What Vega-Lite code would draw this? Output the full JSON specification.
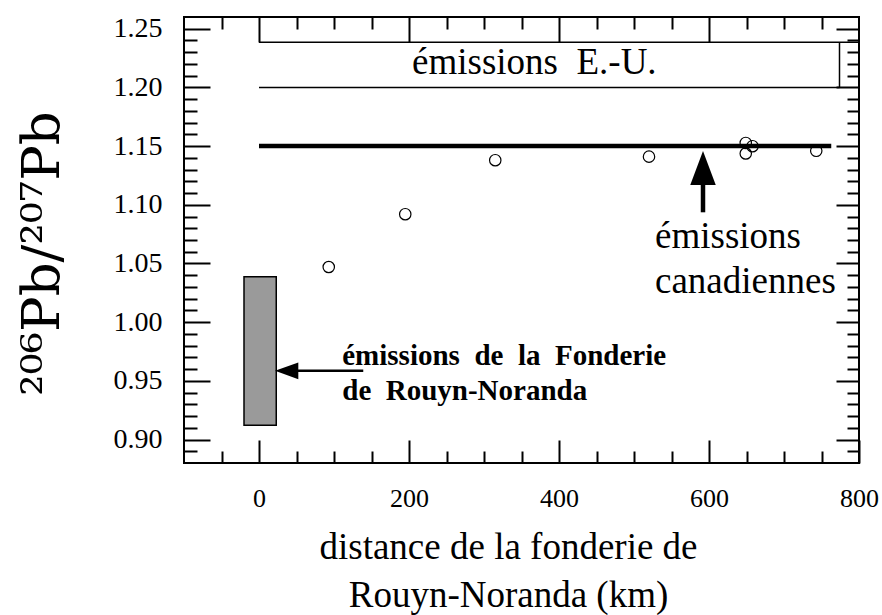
{
  "$schema": "https://vega.github.io/schema/vega-lite/v6.json",
  "width": 675,
  "height": 446,
  "autosize": {"type": "none"},
  "padding": {"left": 184, "top": 17, "right": 23, "bottom": 152},
  "background": "white",
  "config": {
    "view": {"stroke": "black", "strokeWidth": 2},
    "axis": {"grid": false, "domain": false, "tickColor": "black", "tickWidth": 2, "labelColor": "black", "titleColor": "black", "labelFont": "Liberation Serif", "titleFont": "Liberation Serif", "titleFontWeight": "normal"}
  },
  "datasets": {
    "points": [
      {"d": 93, "r": 1.047},
      {"d": 195, "r": 1.092},
      {"d": 315, "r": 1.138},
      {"d": 520, "r": 1.141},
      {"d": 649, "r": 1.1527},
      {"d": 649, "r": 1.1437},
      {"d": 658, "r": 1.1499},
      {"d": 743, "r": 1.146}
    ],
    "thin": [
      {"x1": 0, "x2": 800, "y1": 1.2385, "y2": 1.2385},
      {"x1": 0, "x2": 774, "y1": 1.2, "y2": 1.2},
      {"x1": 774, "x2": 774, "y1": 1.2, "y2": 1.2385}
    ],
    "thick": [
      {"x1": 0, "x2": 763, "y1": 1.15, "y2": 1.15},
      {"x1": 592, "x2": 592, "y1": 1.0936, "y2": 1.119}
    ],
    "shaft": [
      {"x1": 50, "x2": 139, "y1": 0.9585, "y2": 0.9585}
    ],
    "box": [
      {"x1": -20, "x2": 23, "y1": 0.9122, "y2": 1.0387}
    ],
    "headUp": [{"x": 592, "y": 1.1313}],
    "headLeft": [{"x": 36.9, "y": 0.9585}],
    "labels": [
      {"x": 204, "y": 1.2204, "t": "émissions\u00a0 E.-U."},
      {"x": 528, "y": 1.0729, "t": "émissions"},
      {"x": 528, "y": 1.0346, "t": "canadiennes"}
    ],
    "bold": [
      {"x": 111, "y": 0.9712, "t": "émissions\u00a0 de\u00a0 la\u00a0 Fonderie"},
      {"x": 111, "y": 0.9415, "t": "de\u00a0 Rouyn-Noranda"}
    ]
  },
  "resolve": {"axis": {"x": "independent", "y": "independent"}},
  "layer": [
    {
      "data": {"name": "box"},
      "mark": {"type": "rect", "fill": "#9a9a9a", "stroke": "black", "strokeWidth": 1.5},
      "encoding": {
        "x": {"field": "x1", "type": "quantitative", "scale": {"domain": [-100, 800], "nice": false, "zero": false},
          "axis": {"orient": "top", "values": [-50, 50, 100, 150, 250, 300, 350, 450, 500, 550, 650, 700, 750], "tickSize": -12, "labels": false, "title": null}},
        "x2": {"field": "x2"},
        "y": {"field": "y1", "type": "quantitative", "scale": {"domain": [0.88, 1.26], "nice": false, "zero": false},
          "axis": {"orient": "right", "values": [0.89, 0.91, 0.92, 0.93, 0.94, 0.96, 0.97, 0.98, 0.99, 1.01, 1.02, 1.03, 1.04, 1.06, 1.07, 1.08, 1.09, 1.11, 1.12, 1.13, 1.14, 1.16, 1.17, 1.18, 1.19, 1.21, 1.22, 1.23, 1.24], "tickSize": -12, "labels": false, "title": null}},
        "y2": {"field": "y2"}
      }
    },
    {
      "data": {"name": "thin"},
      "mark": {"type": "rule", "color": "black", "strokeWidth": 1.5},
      "encoding": {
        "x": {"field": "x1", "type": "quantitative", "scale": {"domain": [-100, 800], "nice": false, "zero": false},
          "axis": {"orient": "bottom", "values": [-50, 50, 100, 150, 250, 300, 350, 450, 500, 550, 650, 700, 750], "tickSize": -12, "labels": false, "title": null}},
        "x2": {"field": "x2"},
        "y": {"field": "y1", "type": "quantitative", "scale": {"domain": [0.88, 1.26], "nice": false, "zero": false},
          "axis": {"orient": "left", "values": [0.89, 0.91, 0.92, 0.93, 0.94, 0.96, 0.97, 0.98, 0.99, 1.01, 1.02, 1.03, 1.04, 1.06, 1.07, 1.08, 1.09, 1.11, 1.12, 1.13, 1.14, 1.16, 1.17, 1.18, 1.19, 1.21, 1.22, 1.23, 1.24], "tickSize": -13, "labels": false, "title": null}},
        "y2": {"field": "y2"}
      }
    },
    {
      "data": {"name": "thick"},
      "mark": {"type": "rule", "color": "black", "strokeWidth": 4.5},
      "encoding": {
        "x": {"field": "x1", "type": "quantitative", "scale": {"domain": [-100, 800], "nice": false, "zero": false},
          "axis": {"orient": "top", "values": [0, 200, 400, 600], "tickSize": -25, "labels": false, "title": null}},
        "x2": {"field": "x2"},
        "y": {"field": "y1", "type": "quantitative", "scale": {"domain": [0.88, 1.26], "nice": false, "zero": false},
          "axis": {"orient": "right", "values": [0.9, 0.95, 1.0, 1.05, 1.1, 1.15, 1.2, 1.25], "tickSize": -23, "labels": false, "title": null}},
        "y2": {"field": "y2"}
      }
    },
    {
      "data": {"name": "shaft"},
      "mark": {"type": "rule", "color": "black", "strokeWidth": 2.5},
      "encoding": {
        "x": {"field": "x1", "type": "quantitative", "axis": null},
        "x2": {"field": "x2"},
        "y": {"field": "y1", "type": "quantitative", "axis": null},
        "y2": {"field": "y2"}
      }
    },
    {
      "data": {"name": "headUp"},
      "mark": {"type": "point", "shape": "M0,-1L-0.75,1L0.75,1Z", "filled": true, "color": "black", "opacity": 1, "size": 1156},
      "encoding": {
        "x": {"field": "x", "type": "quantitative", "axis": null},
        "y": {"field": "y", "type": "quantitative", "axis": null}
      }
    },
    {
      "data": {"name": "headLeft"},
      "mark": {"type": "point", "shape": "M-1,0L1,-0.71L1,0.71Z", "filled": true, "color": "black", "opacity": 1, "size": 543},
      "encoding": {
        "x": {"field": "x", "type": "quantitative", "axis": null},
        "y": {"field": "y", "type": "quantitative", "axis": null}
      }
    },
    {
      "data": {"name": "points"},
      "mark": {"type": "point", "filled": false, "stroke": "black", "strokeWidth": 1.2, "opacity": 1, "size": 130},
      "encoding": {
        "x": {"field": "d", "type": "quantitative", "scale": {"domain": [-100, 800], "nice": false, "zero": false},
          "axis": {"orient": "bottom", "values": [0, 200, 400, 600, 800], "tickSize": -23, "labelFontSize": 26, "labelPadding": 45, "labelFlush": false,
            "title": ["distance de la fonderie de", "Rouyn-Noranda (km)"], "titleFontSize": 37, "titleLineHeight": 48, "titlePadding": 18, "titleX": 324}},
        "y": {"field": "r", "type": "quantitative", "scale": {"domain": [0.88, 1.26], "nice": false, "zero": false},
          "axis": {"orient": "left", "values": [0.9, 0.95, 1.0, 1.05, 1.1, 1.15, 1.2, 1.25], "format": ".2f", "tickSize": -26, "labelFontSize": 28, "labelPadding": 48, "labelFlush": false,
            "title": "²⁰⁶Pb/²⁰⁷Pb", "titleFont": "DejaVu Serif", "titleFontSize": 53, "titlePadding": 44, "titleY": 236}}
      }
    },
    {
      "data": {"name": "labels"},
      "mark": {"type": "text", "align": "left", "baseline": "middle", "font": "Liberation Serif", "fontSize": 37, "color": "black"},
      "encoding": {
        "x": {"field": "x", "type": "quantitative", "axis": null},
        "y": {"field": "y", "type": "quantitative", "axis": null},
        "text": {"field": "t"}
      }
    },
    {
      "data": {"name": "bold"},
      "mark": {"type": "text", "align": "left", "baseline": "middle", "font": "Liberation Serif", "fontWeight": "bold", "fontSize": 29, "color": "black"},
      "encoding": {
        "x": {"field": "x", "type": "quantitative", "axis": null},
        "y": {"field": "y", "type": "quantitative", "axis": null},
        "text": {"field": "t"}
      }
    }
  ]
}
